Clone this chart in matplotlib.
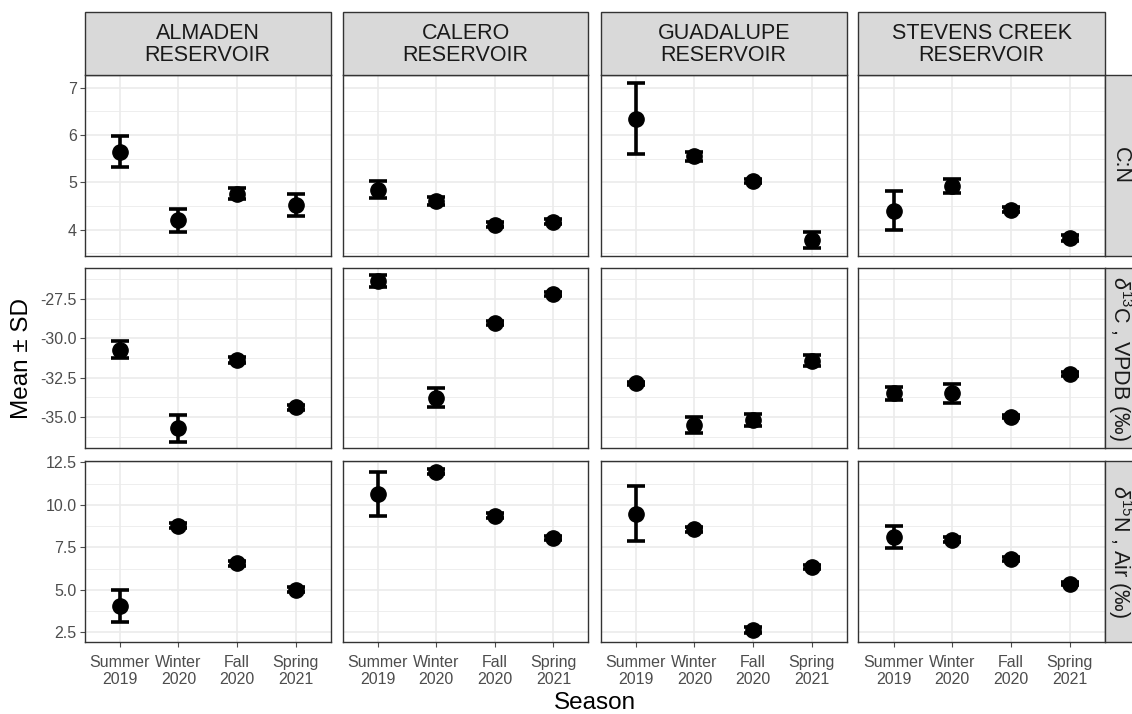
import matplotlib
matplotlib.use("Agg")
import matplotlib.pyplot as plt
from matplotlib.patches import Rectangle
import numpy as np

plt.rcParams['font.family'] = ['Liberation Sans', 'DejaVu Sans']
plt.rcParams['mathtext.fontset'] = 'custom'
plt.rcParams['mathtext.rm'] = 'Liberation Sans'
plt.rcParams['mathtext.it'] = 'Liberation Sans:italic'

seasons = ["Summer\n2019", "Winter\n2020", "Fall\n2020", "Spring\n2021"]
reservoirs = ["ALMADEN\nRESERVOIR", "CALERO\nRESERVOIR", "GUADALUPE\nRESERVOIR", "STEVENS CREEK\nRESERVOIR"]
variables = ["C:N", r"$\delta^{13}$C , VPDB (‰)", r"$\delta^{15}$N , Air (‰)"]

# C:N  mean / sd per reservoir
cn_mean = [[5.65, 4.20, 4.76, 4.53],
           [4.85, 4.61, 4.11, 4.17],
           [6.35, 5.55, 5.03, 3.79],
           [4.40, 4.92, 4.42, 3.83]]
cn_sd = [[0.32, 0.24, 0.12, 0.23],
         [0.19, 0.08, 0.05, 0.05],
         [0.76, 0.09, 0.04, 0.17],
         [0.41, 0.15, 0.05, 0.06]]

# d13C
c_mean = [[-30.74, -35.72, -31.38, -34.38],
          [-26.36, -33.77, -29.05, -27.18],
          [-32.86, -35.51, -35.19, -31.44],
          [-33.50, -33.50, -34.98, -32.27]]
c_sd = [[0.54, 0.85, 0.20, 0.15],
        [0.40, 0.62, 0.12, 0.12],
        [0.10, 0.53, 0.37, 0.35],
        [0.42, 0.62, 0.10, 0.10]]

# d15N
n_mean = [[4.06, 8.78, 6.56, 5.02],
          [10.64, 11.95, 9.36, 8.03],
          [9.47, 8.57, 2.64, 6.35],
          [8.10, 7.94, 6.81, 5.36]]
n_sd = [[0.94, 0.15, 0.15, 0.15],
        [1.31, 0.15, 0.15, 0.12],
        [1.61, 0.15, 0.20, 0.12],
        [0.66, 0.15, 0.10, 0.10]]

row_means = [cn_mean, c_mean, n_mean]
row_sds = [cn_sd, c_sd, n_sd]
row_ylims = [(3.445, 7.28), (-36.99, -25.55), (1.95, 12.58)]
row_major = [[4, 5, 6, 7], [-35, -32.5, -30, -27.5], [2.5, 5.0, 7.5, 10.0, 12.5]]
row_fmt = ["{:g}", "{:.1f}", "{:.1f}"]

W, H = 1132, 714
fig = plt.figure(figsize=(W / 100, H / 100), dpi=100)

col_x = [(84.5, 331), (342.7, 588.5), (600.7, 846.7), (858.3, 1105)]
row_y = [(74.5, 256), (268.3, 448.3), (461, 641.7)]
strip_top = 12.5
strip_right = 1136

border = '#333333'
grid_c = '#EBEBEB'
tick_c = '#4D4D4D'
strip_fill = '#D9D9D9'

def fx(x):
    return x / W

def fy(y):
    return 1 - y / H

x = np.arange(1, 5)
for r in range(3):
    lo, hi = row_ylims[r]
    majors = row_major[r]
    step = majors[1] - majors[0]
    minors = [m + step / 2 for m in [majors[0] - step] + majors]
    for c in range(4):
        x0, x1 = col_x[c]
        y0, y1 = row_y[r]
        ax = fig.add_axes([fx(x0), fy(y1), fx(x1 - x0), (y1 - y0) / H])
        ax.set_xlim(0.4, 4.6)
        ax.set_ylim(lo, hi)
        for m in minors:
            ax.axhline(m, color=grid_c, lw=0.6, zorder=0)
        for m in majors:
            ax.axhline(m, color=grid_c, lw=1.2, zorder=0)
        for xi in x:
            ax.axvline(xi, color=grid_c, lw=1.2, zorder=0)
        ax.errorbar(x, row_means[r][c], yerr=row_sds[r][c], fmt='o', color='black',
                    markersize=11, elinewidth=2.6, capsize=6.5, capthick=2.6, zorder=3)
        ax.set_xticks(x)
        ax.set_yticks(majors)
        ax.tick_params(axis='both', colors=tick_c, length=3.5, width=0.8,
                       labelsize=11.5, labelcolor=tick_c, pad=2)
        if c == 0:
            ax.set_yticklabels([row_fmt[r].format(v) for v in majors])
        else:
            ax.tick_params(axis='y', left=False, labelleft=False)
        if r == 2:
            ax.set_xticklabels(seasons, linespacing=1.15)
            ax.tick_params(axis='x', pad=6)
        else:
            ax.tick_params(axis='x', bottom=False, labelbottom=False)
        for s in ax.spines.values():
            s.set_color(border)
            s.set_linewidth(1.0)
        ax.set_axisbelow(True)

# top strips
for c in range(4):
    x0, x1 = col_x[c]
    fig.patches.append(Rectangle((fx(x0), fy(row_y[0][0])), fx(x1 - x0),
                                 (row_y[0][0] - strip_top) / H,
                                 transform=fig.transFigure, facecolor=strip_fill,
                                 edgecolor=border, lw=1.0))
    fig.text(fx((x0 + x1) / 2), fy((strip_top + row_y[0][0]) / 2 + 1), reservoirs[c],
             ha='center', va='center', fontsize=15.5, color='#1A1A1A', linespacing=1.12)

# right strips
for r in range(3):
    y0, y1 = row_y[r]
    fig.patches.append(Rectangle((fx(col_x[3][1]), fy(y1)), fx(strip_right - col_x[3][1]),
                                 (y1 - y0) / H, transform=fig.transFigure,
                                 facecolor=strip_fill, edgecolor=border, lw=1.0))
    fig.text(fx(1120), fy((y0 + y1) / 2), variables[r], ha='center', va='center',
             rotation=270, fontsize=15.5, color='#1A1A1A')

fig.text(fx(22), fy((row_y[0][0] + row_y[2][1]) / 2), "Mean ± SD", rotation=90,
         ha='center', va='center', fontsize=17.5, color='black')
fig.text(fx((col_x[0][0] + col_x[3][1]) / 2), fy(703), "Season",
         ha='center', va='center', fontsize=17.5, color='black')

fig.savefig("out.png", dpi=100)
